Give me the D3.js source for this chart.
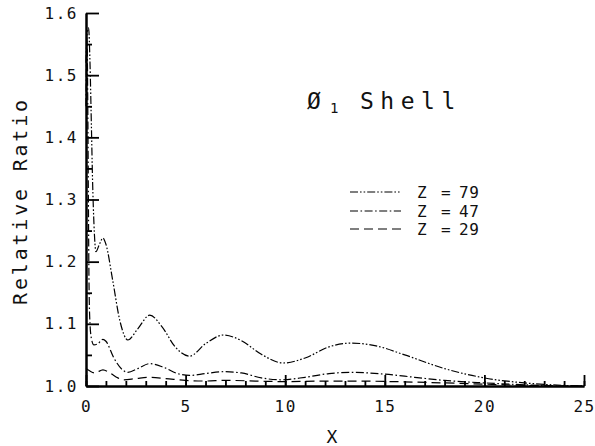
<!DOCTYPE html>
<html>
<head>
<meta charset="utf-8">
<script src="https://cdn.jsdelivr.net/npm/d3@7"></script>
<style>
  html, body { margin: 0; padding: 0; background: #fff; }
  svg { display: block; }
  text { font-family: "DejaVu Sans Mono", monospace; fill: #111; }
</style>
</head>
<body>
<svg id="chart" width="595" height="446"></svg>
<script>
// Relative ratio versus X for the O1 shell, three atomic numbers.
const z79 = [
  [0.0, 1.52], [0.06, 1.568], [0.13, 1.576], [0.2, 1.52], [0.27, 1.42], [0.33, 1.33],
  [0.4, 1.26], [0.5, 1.216], [0.65, 1.226], [0.85, 1.238], [1.0, 1.228], [1.34, 1.17],
  [1.7, 1.105], [2.1, 1.074], [2.6, 1.092], [3.2, 1.114], [3.8, 1.096], [4.5, 1.062],
  [5.2, 1.048], [6.0, 1.068], [6.9, 1.082], [7.8, 1.073], [8.8, 1.051], [9.9, 1.037],
  [11.0, 1.045], [12.2, 1.063], [13.3, 1.069], [14.5, 1.065], [16.0, 1.05], [18.0, 1.028],
  [20.0, 1.013], [22.0, 1.005], [24.0, 1.001], [25.0, 1.0]
];
const z47 = [
  [0.0, 1.45], [0.05, 1.555], [0.09, 1.45], [0.12, 1.30], [0.15, 1.17], [0.2, 1.10],
  [0.28, 1.075], [0.4, 1.066], [0.6, 1.068], [0.85, 1.075], [1.0, 1.072], [1.4, 1.045],
  [1.8, 1.027], [2.1, 1.022], [2.6, 1.028], [3.2, 1.036], [3.9, 1.03], [4.6, 1.02],
  [5.2, 1.017], [6.0, 1.02], [6.9, 1.023], [7.8, 1.021], [8.8, 1.013], [9.8, 1.01],
  [11.0, 1.014], [12.2, 1.02], [13.3, 1.022], [15.0, 1.019], [16.5, 1.014], [18.0, 1.009],
  [20.0, 1.005], [22.0, 1.002], [24.0, 1.0], [25.0, 1.0]
];
const z29 = [
  [0.0, 1.028], [0.2, 1.024], [0.45, 1.021], [0.85, 1.026], [1.2, 1.021], [1.6, 1.013],
  [1.9, 1.010], [2.5, 1.012], [3.2, 1.014], [4.0, 1.012], [5.0, 1.009], [6.0, 1.008],
  [7.0, 1.009], [8.5, 1.008], [10.0, 1.007], [12.0, 1.008], [13.5, 1.008], [15.5, 1.007],
  [18.0, 1.005], [20.0, 1.003], [22.0, 1.001], [25.0, 1.0]
];

const seriesZ = ["79", "47", "29"];
const seriesData = [z79, z47, z29];
const seriesDash = ["8,2,1.6,2,1.6,2", "8,2.5,1.6,2.5", "9,5"];

const xMajorTicks = [0, 5, 10, 15, 20, 25];
const xMinorTicks = d3.range(0, 26, 1);
const yMajorTicks = [1.0, 1.1, 1.2, 1.3, 1.4, 1.5, 1.6];
const yMinorTicks = [1.05, 1.15, 1.25, 1.35, 1.45, 1.55];

const svg = d3.select("#chart");
const x = d3.scaleLinear().domain([0, 25]).range([86, 584]);
const y = d3.scaleLinear().domain([1.0, 1.6]).range([386, 13]);

// x axis: inward minor ticks every unit, longer labelled ticks every 5
svg.append("g").attr("transform", `translate(0,${y(1.0)})`)
  .call(d3.axisBottom(x).tickValues(xMinorTicks).tickSize(-5).tickSizeOuter(0).tickFormat(""));
svg.append("g").attr("transform", `translate(0,${y(1.0)})`)
  .call(d3.axisBottom(x).tickValues(xMajorTicks).tickSize(-11).tickSizeOuter(0)
    .tickPadding(15).tickFormat(d3.format("d")));

// y axis: inward ticks, major every 0.1, minor halfway
svg.append("g").attr("transform", `translate(${x(0)},0)`)
  .call(d3.axisLeft(y).tickValues(yMinorTicks).tickSize(-6).tickSizeOuter(0).tickFormat(""));
svg.append("g").attr("transform", `translate(${x(0)},0)`)
  .call(d3.axisLeft(y).tickValues(yMajorTicks).tickSize(-13).tickSizeOuter(0)
    .tickPadding(8).tickFormat(d3.format(".1f")));

svg.selectAll(".domain").attr("stroke", "#000").attr("stroke-width", 2);
svg.selectAll(".tick line").attr("stroke", "#000").attr("stroke-width", 1.8);
svg.selectAll(".tick text")
  .attr("font-family", "DejaVu Sans Mono, monospace")
  .attr("font-size", 16)
  .attr("letter-spacing", "1.5px")
  .attr("fill", "#111");

// curves
const line = d3.line()
  .x(d => x(d[0]))
  .y(d => y(d[1]))
  .curve(d3.curveMonotoneX);

seriesData.forEach((data, i) => {
  svg.append("path")
    .datum(data)
    .attr("d", line)
    .attr("fill", "none")
    .attr("stroke", "#000")
    .attr("stroke-width", 1.2)
    .attr("stroke-dasharray", seriesDash[i]);
});

// legend
const legendRows = [192, 211, 229];
seriesZ.forEach((z, i) => {
  const ly = legendRows[i];
  svg.append("line")
    .attr("x1", 350).attr("x2", 401)
    .attr("y1", ly).attr("y2", ly)
    .attr("stroke", "#000").attr("stroke-width", 1.2)
    .attr("stroke-dasharray", seriesDash[i]);
  svg.append("text").attr("x", 417).attr("y", ly + 6).attr("font-size", 16).text("Z");
  svg.append("text").attr("x", 441).attr("y", ly + 6).attr("font-size", 16).text("=");
  svg.append("text").attr("x", 459).attr("y", ly + 6).attr("font-size", 16)
    .attr("letter-spacing", "0.5px").text(z);
});

// title
svg.append("text").attr("x", 307).attr("y", 109).attr("font-size", 23).text("Ø");
svg.append("text").attr("x", 330).attr("y", 113).attr("font-size", 14).text("1");
svg.append("text").attr("x", 360).attr("y", 109).attr("font-size", 23)
  .attr("letter-spacing", "6.5px").text("Shell");

// axis titles
svg.append("text")
  .attr("x", x(12.35)).attr("y", 443)
  .attr("text-anchor", "middle")
  .attr("font-size", 18)
  .text("X");

svg.append("text")
  .attr("transform", "translate(27,201) rotate(-90)")
  .attr("text-anchor", "middle")
  .attr("font-size", 20)
  .attr("letter-spacing", "2.8px")
  .text("Relative Ratio");
</script>
</body>
</html>
